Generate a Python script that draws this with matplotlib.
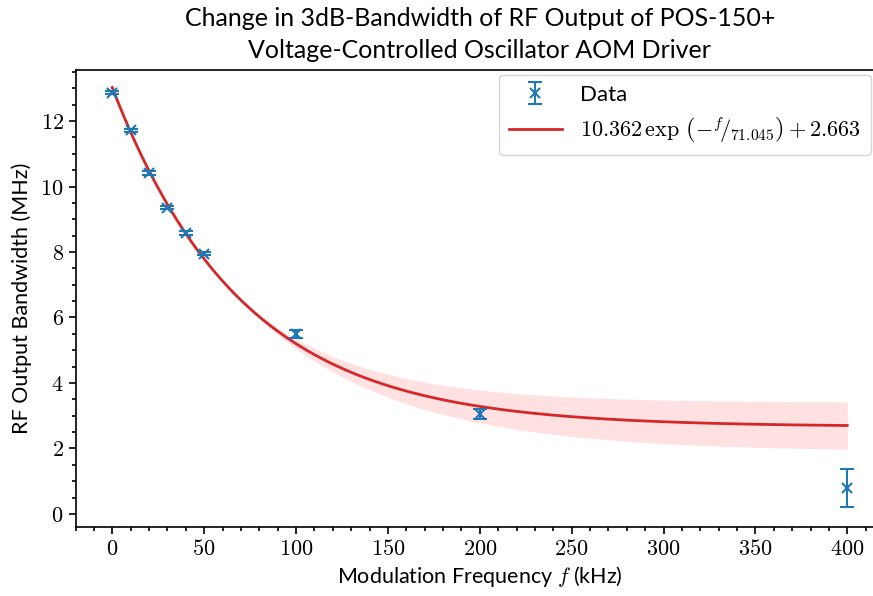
import numpy as np
import matplotlib
matplotlib.use("Agg")
import matplotlib.pyplot as plt
from matplotlib.ticker import MultipleLocator, FuncFormatter

# Data
freq_khz = [0, 10, 20, 30, 40, 50, 100, 200, 400]
bandwidth_mhz = [12.87, 11.72, 10.41, 9.35, 8.58, 7.95, 5.50, 3.05, 0.80]
bandwidth_err = [0.05, 0.05, 0.05, 0.05, 0.05, 0.05, 0.12, 0.15, 0.58]

# Fit parameters: a*exp(-f/tau) + c
fit_a, fit_tau, fit_c = 10.362, 71.045, 2.663
# dominant uncertainty mode of the parameters (a, tau, c)
err_a, err_tau, err_c = -0.75, -8.3, 0.75

plt.rcParams['font.family'] = ['Lato', 'DejaVu Sans']
plt.rcParams['mathtext.fontset'] = 'cm'

fig = plt.figure(figsize=(8.73, 5.96), dpi=100)
ax = fig.add_axes([75.5 / 873, 1 - 527 / 596, (884 - 75.5) / 873, (527 - 70) / 596])

f = np.linspace(0, 400, 500)
e = np.exp(-f / fit_tau)
y_fit = fit_a * e + fit_c
half = np.abs(e * err_a + fit_a * f * e / fit_tau**2 * err_tau + err_c)

ax.fill_between(f, y_fit - half, y_fit + half, color='#ffe1e1', lw=0, zorder=1)
ax.plot(f, y_fit, color='#d62728', lw=2,
        label=r'$10.362\,\exp\,\left(-{}^{f}\!/_{71.045}\right) + 2.663$', zorder=2)
ax.errorbar(freq_khz, bandwidth_mhz, yerr=bandwidth_err, fmt='x', color='#1f77b4',
            ms=7, mew=1.5, elinewidth=1.5, capsize=5, capthick=1.5, label='Data', zorder=3)

ax.set_xlim(-20, 420)
ax.set_ylim(-0.4, 13.56)
ax.xaxis.set_major_locator(MultipleLocator(50))
ax.xaxis.set_minor_locator(MultipleLocator(10))
ax.yaxis.set_major_locator(MultipleLocator(2))
ax.yaxis.set_minor_locator(MultipleLocator(0.5))
fmt = FuncFormatter(lambda v, p: f'${v:g}$')
ax.xaxis.set_major_formatter(fmt)
ax.yaxis.set_major_formatter(fmt)
ax.tick_params(which='both', direction='out', top=False, right=False, labelsize=16, width=1.2)
ax.tick_params(which='major', length=5)
ax.tick_params(which='minor', length=3)
for s in ax.spines.values():
    s.set_linewidth(1.2)

ax.set_xlabel(r'Modulation Frequency $f$ (kHz)', fontsize=15.5, labelpad=4)
ax.set_ylabel('RF Output Bandwidth (MHz)', fontsize=15.5, labelpad=6)
ax.set_title('Change in 3dB-Bandwidth of RF Output of POS-150+\nVoltage-Controlled Oscillator AOM Driver',
             fontsize=18, linespacing=1.45, pad=9)

handles, labels = ax.get_legend_handles_labels()
ax.legend(handles[::-1], labels[::-1], loc='upper right', fontsize=16,
          bbox_to_anchor=(871 / 873, 1 - 75 / 596), bbox_transform=fig.transFigure,
          borderaxespad=0, fancybox=True, framealpha=0.8, edgecolor='#cccccc',
          handlelength=2.4, handletextpad=0.8, labelspacing=0.45, borderpad=0.45)

fig.savefig('out.png', dpi=100)
